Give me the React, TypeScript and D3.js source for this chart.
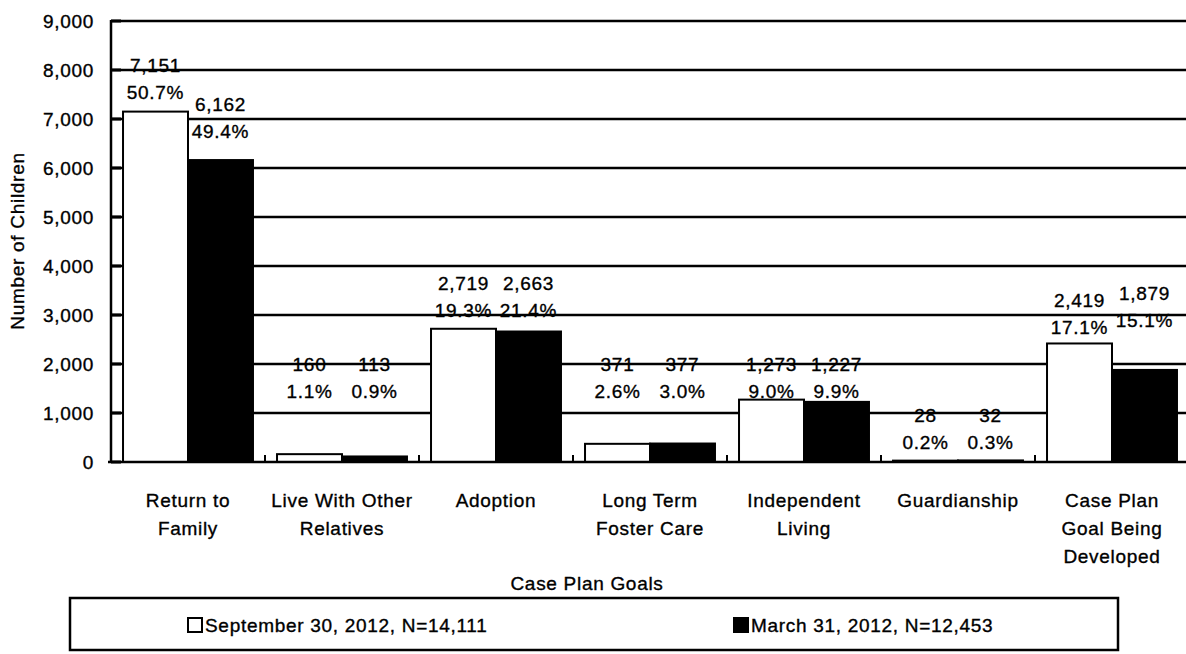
import React from "react";
import * as d3 from "d3";

const categories = [
  "Return to Family",
  "Live With Other Relatives",
  "Adoption",
  "Long Term Foster Care",
  "Independent Living",
  "Guardianship",
  "Case Plan Goal Being Developed",
];
const categoryLines = [
  ["Return to", "Family"],
  ["Live With Other", "Relatives"],
  ["Adoption"],
  ["Long Term", "Foster Care"],
  ["Independent", "Living"],
  ["Guardianship"],
  ["Case Plan", "Goal Being", "Developed"],
];
const seriesNames = ["September 30, 2012, N=14,111", "March 31, 2012, N=12,453"];
const sepValues = [7151, 160, 2719, 371, 1273, 28, 2419];
const marValues = [6162, 113, 2663, 377, 1227, 32, 1879];
const sepPct = ["50.7%", "1.1%", "19.3%", "2.6%", "9.0%", "0.2%", "17.1%"];
const marPct = ["49.4%", "0.9%", "21.4%", "3.0%", "9.9%", "0.3%", "15.1%"];
const yTicks = [0, 1000, 2000, 3000, 4000, 5000, 6000, 7000, 8000, 9000];
// label anchor levels (in "Number of Children" units) as placed in the reference
const sepLabelLevel = [8100, 2000, 3650, 2000, 2000, 950, 3300];
const marLabelLevel = [7300, 2000, 3650, 2000, 2000, 950, 3450];

const W = 1186;
const H = 654;
const FONT = "'Liberation Sans', Arial, sans-serif";
const FS = 19;
const LS = 0.7;

export default function App() {
  const left = 111;
  const y = d3.scaleLinear().domain([0, 9000]).range([462, 21]);
  const x0 = d3.scaleBand<string>().domain(categories).range([left, left + 154 * 7]);
  const x1 = d3
    .scaleBand<string>()
    .domain(seriesNames)
    .range([0, x0.step()])
    .paddingInner(0)
    .paddingOuter(0.185);
  const fmt = d3.format(",");

  const series = [
    { name: seriesNames[0], values: sepValues, pct: sepPct, levels: sepLabelLevel, fill: "#fff" },
    { name: seriesNames[1], values: marValues, pct: marPct, levels: marLabelLevel, fill: "#000" },
  ];

  const textProps = {
    fontFamily: FONT,
    fontSize: FS,
    letterSpacing: LS,
    fill: "#000",
    stroke: "#000",
    strokeWidth: 0.35,
  } as const;

  return (
    <svg
      width={W}
      height={H}
      style={{ position: "absolute", left: 0, top: 0, background: "#fff" }}
    >
      <rect x={0} y={0} width={W} height={H} fill="#fff" />
      {/* gridlines */}
      {yTicks
        .filter((t) => t > 0)
        .map((t) => (
          <line key={"g" + t} x1={left} x2={W} y1={y(t)} y2={y(t)} stroke="#000" strokeWidth={2.5} />
        ))}
      {/* y ticks (inward) */}
      {yTicks.map((t) => (
        <line key={"yt" + t} x1={left} x2={left + 10} y1={y(t)} y2={y(t)} stroke="#000" strokeWidth={3} />
      ))}
      {/* y tick labels */}
      {yTicks.map((t) => (
        <text key={"yl" + t} x={94} y={y(t)} dy="0.35em" textAnchor="end" {...textProps}>
          {fmt(t)}
        </text>
      ))}
      {/* bars */}
      {categories.map((c, i) =>
        series.map((s) => (
          <rect
            key={c + s.name}
            x={(x0(c) as number) + (x1(s.name) as number)}
            y={y(s.values[i])}
            width={x1.bandwidth()}
            height={y(0) - y(s.values[i])}
            fill={s.fill}
            stroke="#000"
            strokeWidth={2}
          />
        ))
      )}
      {/* x tick marks at category boundaries */}
      {categories.slice(1).map((c) => (
        <line
          key={"xt" + c}
          x1={x0(c) as number}
          x2={x0(c) as number}
          y1={y(0)}
          y2={y(0) - 7}
          stroke="#000"
          strokeWidth={2}
        />
      ))}
      {/* axes */}
      <line x1={left} x2={left} y1={y(9000) - 1} y2={y(0) + 1} stroke="#000" strokeWidth={2.5} />
      <line x1={left - 3} x2={W} y1={y(0)} y2={y(0)} stroke="#000" strokeWidth={2.5} />
      {/* value labels */}
      {categories.map((c, i) =>
        series.map((s) => {
          const cx = (x0(c) as number) + (x1(s.name) as number) + x1.bandwidth() / 2;
          const ly = y(s.levels[i]);
          return (
            <g key={"lab" + c + s.name}>
              <text x={cx} y={ly} dy="0.35em" textAnchor="middle" {...textProps}>
                {fmt(s.values[i])}
              </text>
              <text x={cx} y={ly + 27} dy="0.35em" textAnchor="middle" {...textProps}>
                {s.pct[i]}
              </text>
            </g>
          );
        })
      )}
      {/* category labels */}
      {categories.map((c, i) => (
        <text
          key={"cl" + c}
          x={(x0(c) as number) + x0.bandwidth() / 2}
          y={500}
          textAnchor="middle"
          {...textProps}
        >
          {categoryLines[i].map((ln, k) => (
            <tspan key={k} x={(x0(c) as number) + x0.bandwidth() / 2} dy={k === 0 ? "0.35em" : 28}>
              {ln}
            </tspan>
          ))}
        </text>
      ))}
      {/* axis titles */}
      <text x={587} y={583} dy="0.35em" textAnchor="middle" {...textProps}>
        Case Plan Goals
      </text>
      <text
        transform="translate(17,241) rotate(-90)"
        dy="0.35em"
        textAnchor="middle"
        {...textProps}
      >
        Number of Children
      </text>
      {/* legend */}
      <rect x={70} y={598} width={1048} height={52} fill="none" stroke="#000" strokeWidth={2.5} />
      <rect x={188} y={618} width={14} height={14} fill="#fff" stroke="#000" strokeWidth={2} />
      <text x={205} y={625} dy="0.35em" {...textProps}>
        {seriesNames[0]}
      </text>
      <rect x={733} y={617} width={16} height={16} fill="#000" />
      <text x={751} y={625} dy="0.35em" {...textProps}>
        {seriesNames[1]}
      </text>
    </svg>
  );
}
